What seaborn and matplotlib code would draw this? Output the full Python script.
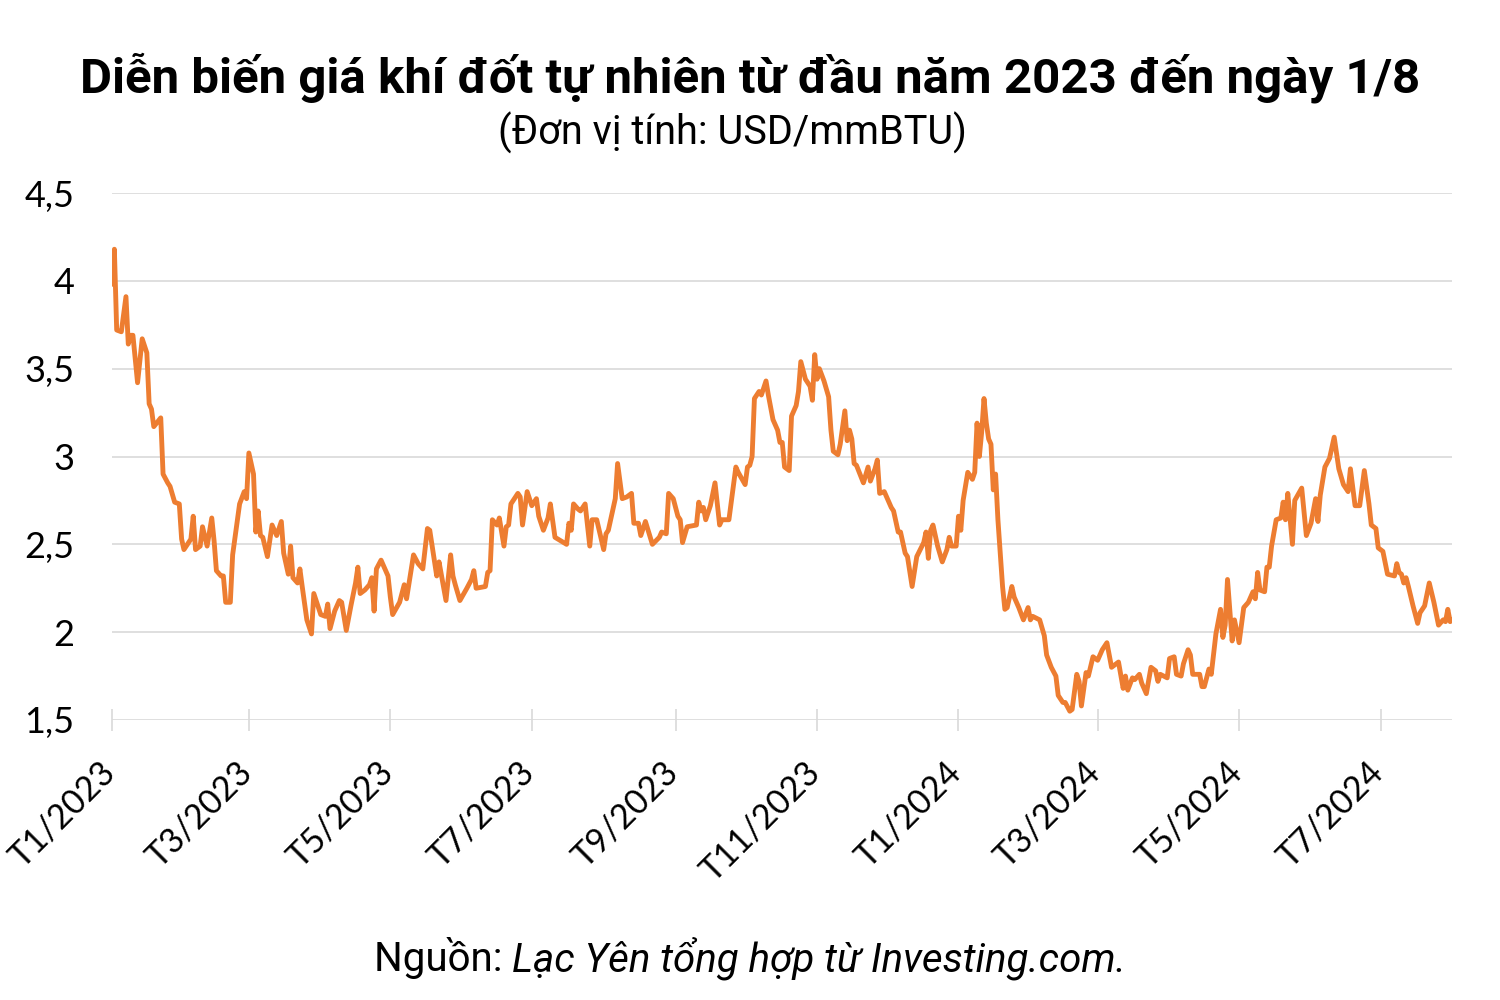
"""
Diễn biến giá khí đốt tự nhiên từ đầu năm 2023 đến ngày 1/8/2024
Vẽ lại biểu đồ đường bằng seaborn
"""

import pandas as pd
import matplotlib
matplotlib.use('Agg')
import matplotlib.pyplot as plt
from matplotlib.ticker import FuncFormatter
from matplotlib.transforms import ScaledTranslation
import seaborn as sns

# ===== Dữ liệu =====
ngay_bat_dau = '2023-01-01'

# số ngày tính từ 1/1/2023
so_ngay = [
    0, 1, 2, 4, 6, 7, 8, 9, 11, 13, 15, 16, 17, 18, 21, 22, 24, 25, 27, 29,
    30, 31, 34, 35, 36, 38, 39, 41, 43, 44, 45, 47, 48, 49, 51, 52, 55, 57, 58, 59,
    61, 62, 63, 64, 65, 67, 69, 71, 73, 74, 76, 77, 78, 80, 81, 82, 84, 86, 87, 90,
    92, 93, 94, 96, 98, 99, 101, 103, 105, 106, 107, 109, 111, 112, 113, 114, 116, 119, 120, 121,
    124, 126, 127, 130, 132, 134, 136, 137, 140, 141, 144, 146, 147, 148, 150, 153, 155, 156, 157, 161,
    162, 163, 164, 166, 167, 169, 170, 171, 172, 175, 176, 177, 179, 181, 183, 184, 186, 188, 189, 191,
    196, 197, 198, 199, 201, 202, 204, 206, 207, 209, 212, 213, 214, 217, 218, 220, 222, 224, 225, 227,
    228, 230, 233, 236, 237, 239, 240, 242, 244, 245, 246, 248, 252, 253, 254, 255, 256, 258, 260, 262,
    263, 266, 269, 270, 273, 274, 275, 276, 277, 279, 280, 282, 283, 285, 287, 288, 289, 290, 292, 293,
    295, 296, 297, 299, 301, 302, 303, 304, 305, 307, 309, 310, 311, 313, 314, 316, 317, 318, 319, 320,
    321, 324, 326, 327, 329, 330, 331, 333, 336, 337, 339, 340, 342, 343, 345, 347, 350, 351, 352, 353,
    354, 356, 358, 360, 361, 362, 364, 365, 366, 367, 369, 371, 372, 373, 374, 375, 376, 377, 378, 379,
    380, 381, 382, 384, 385, 386, 388, 389, 391, 393, 395, 396, 397, 400, 402, 403, 405, 407, 408, 410,
    411, 413, 414, 416, 417, 418, 420, 421, 423, 425, 427, 429, 431, 434, 436, 437, 438, 440, 441, 443,
    444, 446, 448, 450, 451, 452, 455, 456, 458, 459, 461, 462, 464, 465, 466, 469, 470, 471, 473, 474,
    476, 478, 479, 480, 481, 483, 484, 486, 488, 490, 492, 493, 494, 495, 497, 498, 499, 500, 502, 504,
    505, 506, 507, 509, 510, 513, 515, 517, 519, 520, 521, 523, 525, 527, 529, 531, 533, 534, 536, 538,
    540, 542, 543, 545, 546, 548, 550, 553, 554, 555, 556, 557, 558, 559, 561, 563, 564, 566, 568, 570,
    572, 574, 575, 576, 577, 578,
]

# giá (USD/mmBTU)
gia = [
    3.98, 4.18, 3.72, 3.71, 3.91, 3.64, 3.69, 3.69, 3.42, 3.67, 3.59, 3.30, 3.27, 3.17, 3.22, 2.90, 2.85, 2.83, 2.74, 2.73,
    2.53, 2.47, 2.53, 2.66, 2.47, 2.49, 2.60, 2.49, 2.65, 2.52, 2.35, 2.32, 2.32, 2.17, 2.17, 2.44, 2.73, 2.80, 2.76, 3.02,
    2.90, 2.57, 2.69, 2.55, 2.54, 2.43, 2.61, 2.55, 2.63, 2.45, 2.33, 2.49, 2.31, 2.28, 2.36, 2.26, 2.07, 1.99, 2.22, 2.10,
    2.09, 2.16, 2.02, 2.12, 2.18, 2.17, 2.01, 2.15, 2.28, 2.37, 2.22, 2.24, 2.27, 2.31, 2.12, 2.36, 2.41, 2.32, 2.20, 2.10,
    2.17, 2.27, 2.19, 2.44, 2.39, 2.36, 2.59, 2.58, 2.32, 2.40, 2.18, 2.44, 2.32, 2.27, 2.18, 2.25, 2.30, 2.35, 2.25, 2.26,
    2.34, 2.35, 2.64, 2.61, 2.65, 2.49, 2.60, 2.61, 2.73, 2.79, 2.77, 2.61, 2.80, 2.72, 2.76, 2.66, 2.58, 2.65, 2.73, 2.54,
    2.50, 2.62, 2.58, 2.73, 2.70, 2.69, 2.73, 2.49, 2.64, 2.64, 2.47, 2.56, 2.58, 2.76, 2.96, 2.76, 2.77, 2.79, 2.62, 2.62,
    2.55, 2.63, 2.50, 2.54, 2.57, 2.56, 2.79, 2.76, 2.66, 2.64, 2.51, 2.60, 2.61, 2.74, 2.69, 2.71, 2.64, 2.72, 2.85, 2.61,
    2.64, 2.64, 2.94, 2.91, 2.84, 2.94, 2.95, 3.00, 3.33, 3.37, 3.35, 3.43, 3.35, 3.21, 3.15, 3.08, 3.08, 2.94, 2.92, 3.23,
    3.29, 3.37, 3.54, 3.44, 3.40, 3.32, 3.58, 3.44, 3.50, 3.43, 3.34, 3.15, 3.03, 3.01, 3.07, 3.26, 3.09, 3.15, 3.10, 2.96,
    2.95, 2.85, 2.94, 2.86, 2.93, 2.98, 2.79, 2.80, 2.71, 2.69, 2.57, 2.57, 2.45, 2.43, 2.26, 2.43, 2.51, 2.57, 2.42, 2.58,
    2.61, 2.49, 2.40, 2.47, 2.54, 2.49, 2.49, 2.66, 2.58, 2.75, 2.91, 2.87, 2.91, 3.19, 3.00, 3.14, 3.33, 3.19, 3.10, 3.07,
    2.81, 2.90, 2.64, 2.26, 2.13, 2.14, 2.26, 2.20, 2.14, 2.07, 2.14, 2.07, 2.09, 2.07, 1.98, 1.87, 1.80, 1.75, 1.64, 1.60,
    1.60, 1.55, 1.56, 1.76, 1.72, 1.58, 1.77, 1.75, 1.86, 1.84, 1.90, 1.94, 1.80, 1.83, 1.68, 1.75, 1.67, 1.74, 1.73, 1.76,
    1.71, 1.65, 1.80, 1.78, 1.72, 1.76, 1.74, 1.85, 1.86, 1.76, 1.75, 1.82, 1.90, 1.87, 1.76, 1.76, 1.69, 1.69, 1.79, 1.76,
    1.99, 2.13, 1.97, 2.04, 2.30, 1.95, 2.07, 1.94, 2.14, 2.17, 2.23, 2.19, 2.34, 2.24, 2.23, 2.37, 2.37, 2.49, 2.64, 2.65,
    2.74, 2.64, 2.79, 2.50, 2.75, 2.82, 2.55, 2.62, 2.76, 2.63, 2.78, 2.94, 2.99, 3.11, 2.93, 2.84, 2.80, 2.93, 2.72, 2.72,
    2.92, 2.73, 2.61, 2.59, 2.48, 2.46, 2.33, 2.32, 2.39, 2.34, 2.33, 2.28, 2.31, 2.26, 2.15, 2.05, 2.11, 2.15, 2.28, 2.17,
    2.04, 2.07, 2.06, 2.13, 2.06, 2.07,
]

moc_truc_x = ['2023-01-01', '2023-03-01', '2023-05-01', '2023-07-01', '2023-09-01',
              '2023-11-01', '2024-01-01', '2024-03-01', '2024-05-01', '2024-07-01']
nhan_truc_x = ['T1/2023', 'T3/2023', 'T5/2023', 'T7/2023', 'T9/2023',
               'T11/2023', 'T1/2024', 'T3/2024', 'T5/2024', 'T7/2024']
moc_truc_y = [1.5, 2, 2.5, 3, 3.5, 4, 4.5]

tieu_de = 'Diễn biến giá khí đốt tự nhiên từ đầu năm 2023 đến ngày 1/8'
don_vi = '(Đơn vị tính: USD/mmBTU)'
nguon_1 = 'Nguồn: '
nguon_2 = 'Lạc Yên tổng hợp từ Investing.com.'

MAU_CAM = '#ED7D31'
MAU_LUOI = '#D9D9D9'

# ===== Vẽ =====
sns.set_theme(style='white')
plt.rcParams['font.family'] = ['Roboto', 'DejaVu Sans']

df = pd.DataFrame({
    'ngay': pd.Timestamp(ngay_bat_dau) + pd.to_timedelta(so_ngay, unit='D'),
    'gia': gia,
})

fig = plt.figure(figsize=(15, 10), dpi=100)
ax = fig.add_axes([0.0747, 0.28, 0.8936, 0.527])

sns.lineplot(data=df, x='ngay', y='gia', color=MAU_CAM, linewidth=3.5, ax=ax, zorder=3)

ax.set_xlim(pd.Timestamp('2023-01-01'), pd.Timestamp('2024-08-01'))
ax.set_ylim(1.5, 4.5)

# trục y: lưới ngang, dấu phẩy thập phân
ax.set_yticks(moc_truc_y)
ax.yaxis.set_major_formatter(FuncFormatter(lambda v, p: f'{v:g}'.replace('.', ',')))
ax.grid(axis='y', color=MAU_LUOI, linewidth=1.2, zorder=0)
ax.grid(axis='x', visible=False)
ax.tick_params(axis='y', left=False, length=0, pad=27, labelsize=26, labelcolor='black')
for t in ax.get_yticklabels():
    t.set_fontfamily(['Lato', 'DejaVu Sans'])

# trục x: mốc 2 tháng, vạch xuyên qua trục
ax.set_xticks(pd.to_datetime(moc_truc_x))
ax.set_xticklabels(nhan_truc_x, rotation=45, ha='right', va='top',
                   fontsize=24.5, family=['Lato', 'DejaVu Sans'])
ax.tick_params(axis='x', bottom=True, direction='inout', length=16, width=1.2,
               color=MAU_LUOI, pad=18, labelcolor='black')
# dịch nhãn sang phải một chút cho giống bản gốc
dich = ScaledTranslation(9 / 100, 0, fig.dpi_scale_trans)
for t in ax.get_xticklabels():
    t.set_transform(t.get_transform() + dich)

for s in ax.spines.values():
    s.set_visible(False)
ax.set_xlabel('')
ax.set_ylabel('')

# tiêu đề
fig.text(0.5, 0.922, tieu_de, ha='center', va='center',
         fontsize=35.5, fontweight='bold', color='black')
fig.text(0.488, 0.867, don_vi, ha='center', va='center', fontsize=28.5, color='black')

# nguồn: phần thường + phần nghiêng, căn giữa cả dòng
r = fig.canvas.get_renderer()
t1 = fig.text(0, 0.042, nguon_1, ha='left', va='center', fontsize=29, color='black')
t2 = fig.text(0, 0.042, nguon_2, ha='left', va='center', fontsize=29,
              style='italic', color='black')
w1 = t1.get_window_extent(r).width / fig.bbox.width
w2 = t2.get_window_extent(r).width / fig.bbox.width
x0 = 0.5 - (w1 + w2) / 2
t1.set_x(x0)
t2.set_x(x0 + w1)

fig.savefig('out.png', dpi=100)
plt.close()
